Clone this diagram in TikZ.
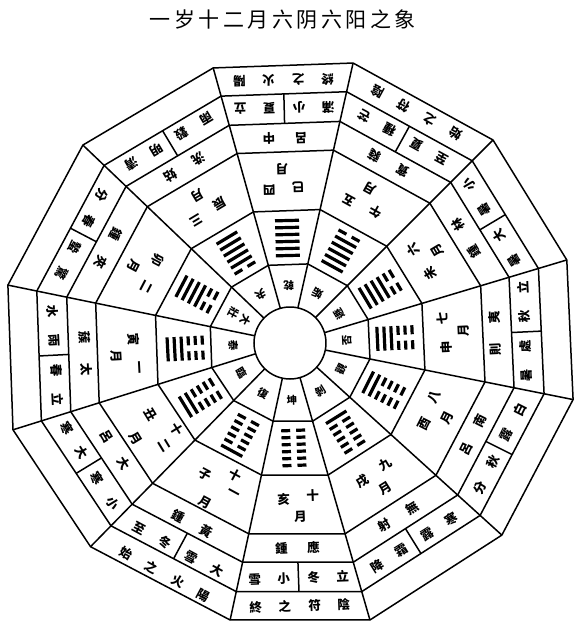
\documentclass[tikz,border=0pt]{standalone}
\usepackage{fontspec}
\newfontfamily\zhfont{Noto Sans CJK TC}
\newfontfamily\titlefont{Noto Sans CJK SC}
\usetikzlibrary{calc}

\tikzset{
  rim/.style={line width=1.5pt},
  zi/.style={font=\zhfont\bfseries\fontsize{12.5}{12.5}\selectfont, inner sep=0pt, transform shape},
  yao/.style={line width=3.2pt},
}

% one hexagram, lines given from the bottom (outer) line upwards
\newcount\yaonum
\def\hexa#1{\yaonum=0 \hexaline#1\relax}
\def\hexaline#1{%
  \ifx#1\relax\else
    \advance\yaonum by 1
    \pgfmathsetmacro\yy{-122.5+7*(\the\yaonum-1)}%
    \if#11\draw[yao] (-12,\yy) -- (12,\yy);%
    \else\draw[yao] (-12,\yy) -- (-3,\yy) (3,\yy) -- (12,\yy);\fi
    \expandafter\hexaline
  \fi}
% month column: number and the sign for month
\def\yuezi#1#2\relax{%
  \if\relax\detokenize{#2}\relax
    \node[zi] (n\s) at (17,-153) {#1};
    \node[zi] (y\s) at (4,-174) {月};
  \else
    \node[zi] (n\s) at (15,-142) {#1};
    \node[zi] (nn\s) at (22,-160) {#2};
    \node[zi] (y\s) at (1,-181) {月};
  \fi}
% two signs, read from right to left
\def\lvzi#1#2{%
  \node[zi] (la\s) at (16,-205) {#1};
  \node[zi] (lb\s) at (-16,-205) {#2};}
% four signs at radius #5, read from right to left
\def\sizi#1#2#3#4#5#6{%
  \node[zi] (#6\s-1) at (44,-#5) {#1};
  \node[zi] (#6\s-2) at (15,-#5) {#2};
  \node[zi] (#6\s-3) at (-15,-#5) {#3};
  \node[zi] (#6\s-4) at (-44,-#5) {#4};}

\begin{document}
\begin{tikzpicture}[x=1pt,y=1pt]
  \useasboundingbox (-290,-287) rectangle (297,343);
  % title
  \node[font=\titlefont\fontsize{21}{21}\selectfont, inner sep=0pt] (title) at (-7,323)
    {一\kern3.5pt岁\kern3.5pt十\kern3.5pt二\kern3.5pt月\kern3.5pt六\kern3.5pt阴\kern3.5pt六\kern3.5pt阳\kern3.5pt之\kern3.5pt象};
  % centre
  \node[draw, circle, rim, minimum size=72pt, inner sep=0pt] (hub) at (0,0) {};
  % corners of the rings and the spokes
  \foreach \a/\r [count=\i] in {16.7/289, 45/287.1, 77.3/287, 105.6/285.6, 136.3/286.5, 168.4/288,
      197.4/290.3, 225.6/285.1, 257.8/283.4, 286.1/288.3, 317.8/286, 348.7/288.7} {
    \foreach \f [count=\j] in {0.2824,0.4766,0.6888,0.7914,0.8975,1}
      \coordinate (p\j-\i) at (\a:{\f*\r});
    \coordinate (c\i) at (\a:36);
    \draw[rim] (c\i) -- (p6-\i);
  }
  % rings
  \foreach \j in {1,...,6}
    \draw[rim] (p\j-1) \foreach \i in {2,...,12} { -- (p\j-\i) } -- cycle;
  % the two solar terms of each month
  \foreach \s in {1,...,12} {
    \pgfmathtruncatemacro\t{mod(\s,12)+1}
    \draw[rim] ($(p4-\s)!0.5!(p4-\t)$) -- ($(p5-\s)!0.5!(p5-\t)$);
  }
  % the twelve months
  \foreach \ang/\gname/\bits/\num/\zhi/\lv/\jq [count=\s] in {
      30.8/遯/001111/六/未/林鍾/小暑大暑,
      61.2/姤/011111/五/午/蕤賓/芒種夏至,
      91.4/乾/111111/四/巳/中呂/立夏小滿,
      121/夬/111110/三/辰/姑洗/清明穀雨,
      152.4/大\\[3pt]壯/111100/二/卯/夾鍾/驚蟄春分,
      183/泰/111000/一/寅/太蔟/立春雨水,
      211.4/臨/110000/十二/丑/大呂/小寒大寒,
      241.6/復/100000/十一/子/黃鍾/大雪冬至,
      272.1/坤/000000/十/亥/應鍾/立冬小雪,
      301.9/剝/000001/九/戌/無射/寒露霜降,
      333.3/觀/000011/八/酉/南呂/白露秋分,
      362.7/否/000111/七/申/夷則/立秋處暑} {
    \begin{scope}[rotate=\ang+90]
      \node[zi, align=center, font=\zhfont\bfseries\fontsize{10.5}{10.5}\selectfont] (g\s) at (0,-57) {\gname};
      \expandafter\hexa\expandafter{\bits}
      \expandafter\yuezi\num\relax
      \node[zi] (z\s) at (-12,-156) {\zhi};
      \expandafter\lvzi\lv
      \expandafter\sizi\jq{235}{e}
    \end{scope}
  }
  % yang fire and yin tally
  \foreach \ang/\fu/\s in {61.2/陰符之始/2, 91.4/陽火之終/3, 241.6/陽火之始/8, 272.1/陰符之終/9} {
    \begin{scope}[rotate=\ang+90]
      \expandafter\sizi\fu{263}{f}
    \end{scope}
  }
\end{tikzpicture}
\end{document}
